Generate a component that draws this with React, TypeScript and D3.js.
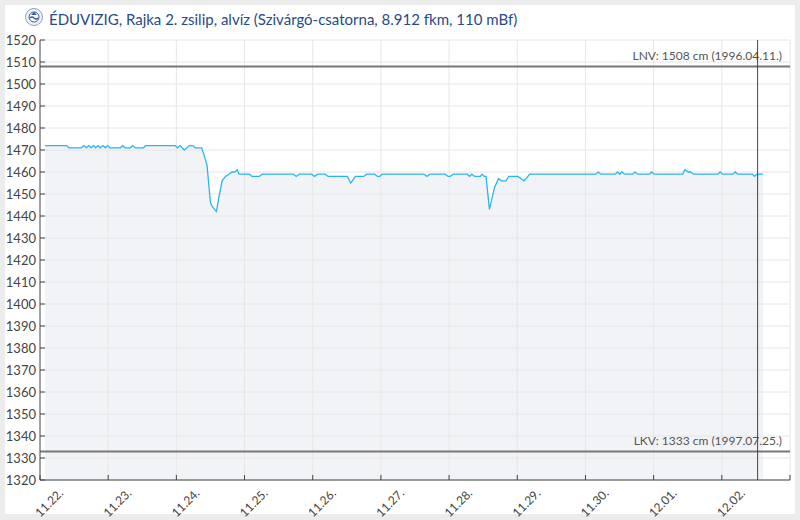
import React from 'react';
import * as d3 from 'd3';

// hours since 11.22. 00:00 and water level (cm)
const hours = [
  1.8, 9.4, 10.2, 14.5, 15.5, 16.3, 17.2, 18, 18.8, 19.6, 20.4, 21.2, 22.2, 23, 23.8, 24.6,
  28.3, 29.1, 29.9, 31.8, 32.6, 33.6, 36.4, 37.2, 47.6, 48.4, 49.3, 50.8, 52.6, 53.8, 54.6, 56.9,
  57.7, 58.8, 60, 60.8, 62.1, 62.9, 64.1, 65.3, 66.5, 67.6, 68.6, 69.4, 70.1, 73.8, 74.6, 77.2,
  78.2, 89.2, 90.2, 91.2, 95.6, 96.6, 97.8, 100.4, 101.4, 108.2, 109.4, 111, 114, 115, 117.8,
  118.8, 119.6, 120.4, 135.2, 136.2, 137.2, 142.6, 143.6, 144.4, 145.4, 150.4, 151.2, 152, 153,
  155, 155.6, 156.4, 157, 158.2, 160, 161.4, 162.4, 164, 165, 168.2, 170.4, 172.4, 195.6, 196.5,
  197.4, 202.5, 203.3, 204.1, 204.8, 205.8, 208.6, 209.4, 210.4, 214.5, 215.3, 216.2, 226.2, 227,
  228.2, 229, 230, 238.6, 239.4, 240.3, 243.9, 244.7, 245.6, 250.8, 251.5, 252.4, 254.5,
];
const levels = [
  1472, 1472, 1471, 1471, 1472, 1471, 1472, 1471, 1472, 1471, 1472, 1471, 1472, 1471, 1472, 1471,
  1471, 1472, 1471, 1471, 1472, 1471, 1471, 1472, 1472, 1471, 1472, 1470, 1472, 1472, 1471, 1471,
  1468, 1463, 1446, 1444, 1442, 1448, 1456, 1458, 1459, 1460, 1460, 1461, 1459, 1459, 1458, 1458,
  1459, 1459, 1458, 1459, 1459, 1458, 1459, 1459, 1458, 1458, 1455, 1458, 1458, 1459, 1459,
  1458, 1458, 1459, 1459, 1458, 1459, 1459, 1458, 1458, 1459, 1459, 1458, 1459, 1458,
  1458, 1459, 1458, 1458, 1443, 1453, 1457, 1456, 1456, 1458, 1458, 1456, 1459, 1459, 1460,
  1459, 1459, 1460, 1459, 1460, 1459, 1459, 1460, 1459, 1459, 1460, 1459, 1459, 1461,
  1460, 1460, 1459, 1459, 1460, 1459, 1459, 1460, 1459, 1459, 1458, 1459, 1459,
];

const dayLabels = ['11.22.', '11.23.', '11.24.', '11.25.', '11.26.', '11.27.', '11.28.', '11.29.', '11.30.', '12.01.', '12.02.'];
const yTicks = d3.range(1320, 1521, 10);
const limits = [
  { value: 1508, label: 'LNV: 1508 cm (1996.04.11.)' },
  { value: 1333, label: 'LKV: 1333 cm (1997.07.25.)' },
];
const nowHour = 252.6;
const title = 'ÉDUVIZIG, Rajka 2. zsilip, alvíz (Szivárgó-csatorna, 8.912 fkm, 110 mBf)';

const start = new Date(2023, 10, 22);
const toDate = (h: number) => new Date(start.getTime() + h * 3600 * 1000);

export default function App() {
  const width = 800;
  const height = 520;
  const left = 40, right = 790, top = 40, bottom = 480;
  const font = 'Lato, "Open Sans", sans-serif';

  const x = d3.scaleTime().domain([start, d3.timeDay.offset(start, 11)]).range([left, right]);
  const y = d3.scaleLinear().domain([1320, 1520]).range([bottom, top]);

  const data = hours.map((h, i) => ({ t: toDate(h), v: levels[i] }));
  const line = d3.line<{ t: Date; v: number }>().x(d => x(d.t)).y(d => y(d.v));
  const area = d3.area<{ t: Date; v: number }>().x(d => x(d.t)).y0(bottom).y1(d => y(d.v));
  const days = d3.range(0, 12).map(i => d3.timeDay.offset(start, i));

  return (
    <div style={{ position: 'absolute', left: 0, top: 0 }}>
      <svg width={width} height={height} style={{ display: 'block', fontFamily: font }}>
        <rect x={0} y={0} width={width} height={height} fill="#ececec" />
        <rect x={5} y={5} width={790} height={509} fill="#ffffff" />

        {/* fill under the line, below the grid */}
        <path d={area(data) || ''} fill="#f2f3f7" />

        {/* grid */}
        {yTicks.map(t => (
          <line key={'gy' + t} x1={left} x2={right} y1={y(t)} y2={y(t)} stroke="#e6e6e6" />
        ))}
        {days.slice(1).map((d, i) => (
          <line key={'gx' + i} x1={x(d)} x2={x(d)} y1={top} y2={bottom} stroke="#e6e6e6" />
        ))}

        <path d={line(data) || ''} fill="none" stroke="#27b7ea" strokeWidth={1.3} />

        {/* limit lines */}
        {limits.map(l => (
          <g key={l.label}>
            <line x1={left} x2={right} y1={y(l.value)} y2={y(l.value)} stroke="#777" strokeWidth={2} />
            <text x={782} y={y(l.value) - 6} textAnchor="end" fontSize={12} fill="#555">{l.label}</text>
          </g>
        ))}

        {/* now marker */}
        <line x1={x(toDate(nowHour))} x2={x(toDate(nowHour))} y1={top} y2={bottom} stroke="#444" strokeWidth={1} />

        {/* y axis */}
        <line x1={left} x2={left} y1={top} y2={bottom} stroke="#444" />
        {yTicks.map(t => (
          <g key={'yt' + t}>
            <line x1={left} x2={left + 5} y1={y(t)} y2={y(t)} stroke="#444" />
            <text x={36} y={y(t) + 4.5} textAnchor="end" fontSize={13} fill="#444">{t}</text>
          </g>
        ))}

        {/* x axis */}
        <line x1={left} x2={right} y1={bottom} y2={bottom} stroke="#444" />
        {days.map((d, i) => (
          <line key={'xt' + i} x1={x(d)} x2={x(d)} y1={bottom} y2={bottom - 5} stroke="#444" />
        ))}
        {dayLabels.map((lab, i) => {
          const px = x(days[i]) + 24;
          const py = 494;
          return (
            <text key={lab} x={px} y={py} textAnchor="end" fontSize={12} fill="#444"
              transform={`rotate(-45 ${px} ${py})`}>{lab}</text>
          );
        })}

        {/* title with logo */}
        <g transform="translate(34,17)">
          <circle r={8.5} fill="#eef2f8" stroke="#8fa0c4" strokeWidth={1} />
          <circle r={5} fill="#ffffff" stroke="#3b5a9a" strokeWidth={1} />
          <path d="M-4,1 Q-2,-1 0,1 T4,1" fill="none" stroke="#3b5a9a" strokeWidth={1.2} />
          <path d="M-3,-2 L0,-5 L3,-2 Z" fill="#3b5a9a" />
        </g>
        <text x={49} y={25} fontSize={15} fill="#284a8c">{title}</text>
      </svg>
    </div>
  );
}
